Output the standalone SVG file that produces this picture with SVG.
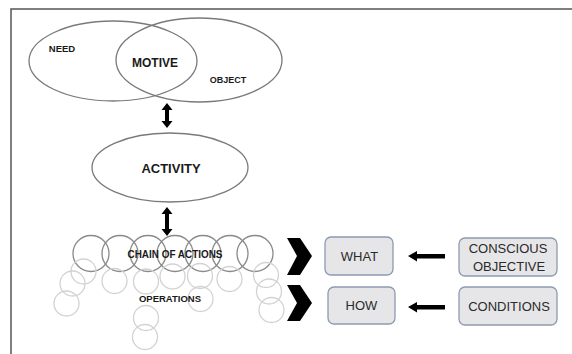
<svg xmlns="http://www.w3.org/2000/svg" width="572" height="354" viewBox="0 0 572 354">
<defs>
<style>
.ell{fill:none;stroke:#7a7a7a;stroke-width:1.3}
.chain{fill:none;stroke:#8a8a8a;stroke-width:1.3}
.op{fill:none;stroke:#d2d2d2;stroke-width:1.3}
.lbl{font-family:"Liberation Sans",Arial,sans-serif;font-weight:bold;fill:#1a1a1a;text-anchor:middle}
.box{fill:#e6e6e8;stroke:#8d9bb0;stroke-width:1.3}
.btxt{font-family:"Liberation Sans",Arial,sans-serif;font-size:13px;fill:#2a2a2a;text-anchor:middle}
.blk{fill:#000}
</style>
</defs>
<rect width="572" height="354" fill="#fff"/>
<path d="M11 354 V9 H572" fill="none" stroke="#555" stroke-width="1.5"/>

<g id="need">
<ellipse class="ell" cx="113" cy="61" rx="84" ry="40"/>
<text class="lbl" x="62" y="51.5" font-size="9.5">NEED</text>
</g>
<g id="object">
<ellipse class="ell" cx="199" cy="60" rx="83" ry="42"/>
<text class="lbl" x="228" y="83" font-size="9">OBJECT</text>
</g>
<g id="motive">
<text class="lbl" x="155" y="66.5" font-size="12">MOTIVE</text>
</g>
<g id="activity">
<ellipse class="ell" cx="170" cy="167.5" rx="78" ry="34.5"/>
<text class="lbl" x="171" y="172.5" font-size="13">ACTIVITY</text>
</g>
<g id="chain">
<circle class="chain" cx="91" cy="253.5" r="18"/>
<circle class="chain" cx="120" cy="253.5" r="18"/>
<circle class="chain" cx="148" cy="253.5" r="18"/>
<circle class="chain" cx="175" cy="253.5" r="18"/>
<circle class="chain" cx="203" cy="253.5" r="18"/>
<circle class="chain" cx="230" cy="253.5" r="18"/>
<circle class="chain" cx="255" cy="253.5" r="18"/>
<text class="lbl" x="175" y="258" font-size="10" textLength="95" lengthAdjust="spacingAndGlyphs">CHAIN OF ACTIONS</text>
</g>
<g id="operations">
<circle class="op" cx="83.5" cy="271.5" r="12.5"/>
<circle class="op" cx="72.5" cy="283.5" r="12.5"/>
<circle class="op" cx="66.5" cy="303.5" r="12.5"/>
<circle class="op" cx="114.5" cy="281" r="12.5"/>
<circle class="op" cx="146" cy="281.5" r="12.5"/>
<circle class="op" cx="146" cy="318" r="12.5"/>
<circle class="op" cx="145" cy="337" r="12.5"/>
<circle class="op" cx="172.5" cy="276.5" r="12.5"/>
<circle class="op" cx="200" cy="276" r="12.5"/>
<circle class="op" cx="200.5" cy="299" r="12.5"/>
<circle class="op" cx="229.5" cy="279" r="12.5"/>
<circle class="op" cx="266" cy="275" r="12.5"/>
<circle class="op" cx="269" cy="291.5" r="12.5"/>
<circle class="op" cx="271.5" cy="310" r="12.5"/>
<text class="lbl" x="170" y="302" font-size="9.5">OPERATIONS</text>
</g>
<g id="what">
<rect class="box" x="325" y="237" width="68" height="38" rx="6"/>
<text class="btxt" x="359.5" y="261">WHAT</text>
</g>
<g id="how">
<rect class="box" x="328" y="287" width="67" height="37" rx="6"/>
<text class="btxt" x="361.5" y="310">HOW</text>
</g>
<g id="conscious-objective">
<rect class="box" x="459" y="238" width="98" height="38" rx="6"/>
<text class="btxt" x="508" y="253">CONSCIOUS</text>
<text class="btxt" x="509" y="271">OBJECTIVE</text>
</g>
<g id="conditions">
<rect class="box" x="459" y="287" width="98" height="38" rx="6"/>
<text class="btxt" x="509" y="311">CONDITIONS</text>
</g>
<g id="connectors">
<path class="blk" d="M167 103 L172.5 110 H169 V121 H172.5 L167 128 L161.5 121 H165 V110 H161.5 Z"/>
<path class="blk" d="M167 207 L172.5 214 H169 V229 H172.5 L167 236 L161.5 229 H165 V214 H161.5 Z"/>
<path class="blk" d="M287 238 H300 L312 256 L300 275 H287 L297 256 Z"/>
<path class="blk" d="M287 285 H300 L312 303 L300 321 H287 L297 303 Z"/>
<path class="blk" d="M408 256 L417 251 V254 H445 V258.5 H417 V261.5 Z"/>
<path class="blk" d="M408 307 L417 302 V305 H445 V309.5 H417 V312.5 Z"/>
</g>
</svg>
